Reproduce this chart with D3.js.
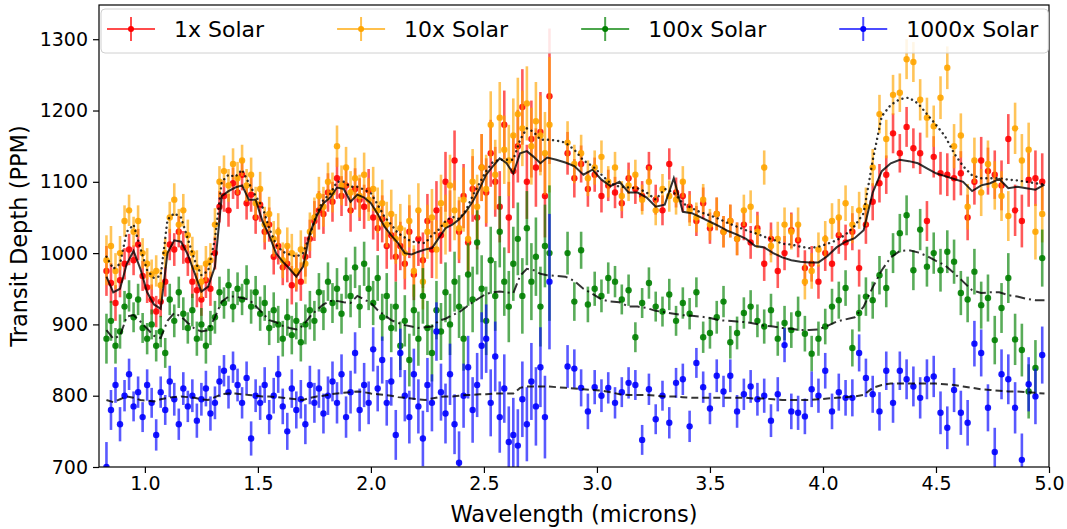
<!DOCTYPE html>
<html lang="en">
<head>
    <meta charset="UTF-8">
    <title>Transit depth vs wavelength</title>
    <style>
        body { margin: 0; background: #fff; }
        text { font-family: "DejaVu Sans", sans-serif; }
    </style>
</head>
<body>
    <script src="https://cdn.jsdelivr.net/npm/d3@7"></script>
    <script>
        // binned wavelengths (microns)
        var wavelength = [
            0.83,0.85,0.87,0.89,0.91,0.93,0.95,0.97,0.99,
            1.01,1.03,1.05,1.07,1.09,1.11,1.13,1.15,1.17,1.19,
            1.21,1.23,1.25,1.27,1.29,1.31,1.33,1.35,1.37,1.39,
            1.41,1.43,1.45,1.47,1.49,1.51,1.53,1.55,1.57,1.59,
            1.61,1.63,1.65,1.67,1.69,1.71,1.73,1.75,1.77,1.79,
            1.81,1.83,1.85,1.87,1.89,1.91,1.93,1.95,1.97,1.99,
            2.01,2.03,2.05,2.07,2.09,2.11,2.13,2.15,2.17,2.19,
            2.21,2.23,2.25,2.27,2.29,2.31,2.33,2.35,2.37,2.39,
            2.41,2.43,2.45,2.47,2.49,2.51,2.53,2.55,2.57,2.59,
            2.61,2.63,2.65,2.67,2.69,2.71,2.73,2.75,2.77,2.79,
            2.87,2.90,2.93,2.96,2.99,
            3.02,3.05,3.08,3.11,3.14,3.17,3.20,3.23,3.26,3.29,
            3.32,3.35,3.38,3.41,3.44,3.47,3.50,3.53,3.56,3.59,
            3.62,3.65,3.68,3.71,3.74,3.77,3.80,3.83,3.86,3.89,
            3.92,3.95,3.98,4.01,4.04,4.07,4.10,4.13,4.16,4.19,
            4.22,4.25,4.28,4.31,4.34,4.37,4.40,4.43,4.46,4.49,
            4.52,4.55,4.58,4.61,4.64,4.67,4.70,4.73,4.76,4.79,
            4.82,4.85,4.88,4.91,4.94,4.97
        ];
        // 1-sigma error (ppm), same noise for every model
        var errPPM = [
            35,28,25,24,22,22,21,22,21,
            22,21,22,22,21,22,23,22,23,22,
            23,24,23,25,24,23,22,22,23,22,
            23,22,23,24,23,24,25,24,25,26,
            25,26,27,26,27,28,27,28,27,28,
            27,28,29,28,29,30,29,30,31,30,
            31,32,33,32,34,35,34,36,37,36,
            38,39,38,40,41,40,42,43,42,44,
            45,44,46,45,47,48,47,49,50,48,
            50,52,51,53,52,54,55,56,58,95,
            30,27,26,25,24,
            23,22,22,21,22,21,21,22,21,21,
            22,21,22,22,21,22,22,23,22,23,
            23,22,23,23,24,23,24,24,25,24,
            25,25,24,25,25,26,25,26,26,27,
            26,27,27,28,27,28,28,29,28,29,
            30,30,31,31,32,32,33,33,34,35,
            35,36,37,38,39,40
        ];
        var depth1x = [
            975,958,930,962,985,1005,990,1012,968,
            952,935,918,932,960,1012,1005,1030,1008,990,
            960,948,935,962,950,1000,1065,1080,1060,1098,
            1085,1110,1070,1082,1050,1068,1030,1040,995,1010,
            980,985,955,972,960,995,1020,1045,1060,1055,
            1085,1072,1105,1080,1095,1060,1090,1075,1065,1088,
            1050,1035,1048,1010,1025,995,1010,985,1030,970,
            1020,990,1045,1005,1060,1025,1100,1045,1130,1030,
            1080,1015,1090,1050,1120,1085,1140,1100,1065,1180,
            1050,1115,1150,1205,1100,1160,1120,1170,1080,1220,
            1140,1105,1125,1090,1110,
            1080,1095,1085,1070,1105,1090,1080,1120,1075,1060,
            1125,1085,1080,1065,1045,1070,1035,1055,1030,1045,
            1020,1040,1015,1035,985,1020,975,1000,1032,1018,
            979,985,960,1000,985,1025,1015,1030,979,1040,
            1072,1098,1110,1168,1140,1177,1147,1140,1045,1135,
            1112,1110,1105,1112,1050,1100,1130,1115,1110,1095,
            1160,1060,1045,1103,1105,1100
        ];
        var depth10x = [
            990,1010,975,1000,1045,1060,1030,1045,1000,
            985,970,975,955,1000,1050,1075,1040,1060,1025,
            1000,980,960,985,990,1040,1100,1115,1095,1125,
            1105,1130,1095,1110,1070,1090,1040,1055,1020,1030,
            990,1010,1000,975,1005,985,1030,1050,1080,1065,
            1100,1085,1150,1095,1120,1085,1105,1080,1110,1075,
            1090,1060,1070,1040,1055,1020,1035,1000,1045,975,
            1060,960,1030,1050,1005,1070,1040,1095,1060,1035,
            1075,1020,1100,1065,1120,1090,1180,1110,1190,1145,
            1130,1165,1195,1175,1210,1150,1185,1165,1140,1180,
            1155,1125,1140,1105,1120,
            1135,1100,1120,1080,1095,1110,1075,1100,1060,1090,
            1080,1075,1100,1060,1050,1075,1040,1055,1030,1045,
            1020,1060,1065,1030,1120,1010,1020,1040,1030,1040,
            960,975,1005,1020,1045,1050,1070,1040,1060,1065,
            1120,1195,1160,1222,1225,1272,1268,1215,1190,1178,
            1218,1260,1150,1165,1065,1130,1085,1125,1095,1080,
            1052,1175,1130,1145,1030,1055
        ];
        var depth100x = [
            880,905,870,890,925,940,910,935,895,
            880,900,870,890,860,935,905,945,915,895,
            920,880,900,870,895,910,945,930,955,925,
            950,935,960,925,945,915,930,895,920,900,
            880,910,885,905,875,900,920,905,945,920,
            960,930,950,915,965,940,980,925,985,950,
            930,965,910,940,895,925,870,905,850,920,
            880,940,895,860,920,890,945,900,960,925,
            880,970,935,1015,950,905,990,940,1030,960,
            925,985,1020,940,1035,960,995,925,1010,1000,
            1000,932,1004,928,950,
            940,965,960,935,948,882,930,958,925,918,
            942,905,930,915,945,882,888,910,932,875,
            888,916,925,905,897,920,880,902,892,915,
            887,859,880,897,925,934,951,867,916,939,
            934,969,951,1000,1028,1053,976,1033,981,1000,
            976,1002,988,944,935,974,927,937,878,923,
            965,879,864,806,839,993
        ];
        var depth1000x = [
            700,780,815,760,800,830,785,805,770,
            815,790,745,805,780,820,795,760,810,785,
            800,765,795,810,775,790,820,835,805,840,
            815,790,825,740,800,790,815,770,800,830,
            785,750,810,780,795,760,815,790,810,775,
            800,820,790,830,770,805,860,780,815,790,
            865,810,850,790,820,745,860,800,770,830,
            785,740,815,790,890,805,775,830,760,706,
            800,840,780,815,870,880,790,855,770,810,
            735,745,730,795,760,820,785,840,770,960,
            841,838,811,778,812,
            800,811,790,805,818,815,738,809,767,800,
            762,818,823,757,846,812,782,828,806,828,
            778,802,813,795,800,765,802,871,778,776,
            771,809,800,835,778,805,797,797,860,825,
            802,778,835,790,835,823,813,797,823,827,
            776,755,808,776,762,873,860,783,721,830,
            823,783,710,816,799,857
        ];

        // forward-model spectra
        var modelWl = [
            0.83,0.86,0.89,0.92,0.95,0.98,
            1.01,1.04,1.07,1.10,1.13,1.16,1.19,1.22,1.25,1.28,
            1.31,1.34,1.37,1.40,1.43,1.46,1.49,1.52,1.55,1.58,
            1.61,1.64,1.67,1.70,1.73,1.76,1.79,1.82,1.85,1.88,
            1.91,1.94,1.97,2.00,2.03,2.06,2.09,2.12,2.15,2.18,
            2.21,2.24,2.27,2.30,2.33,2.36,2.39,2.42,2.45,2.48,
            2.51,2.54,2.57,2.60,2.63,2.66,2.69,2.72,2.75,2.78,
            2.82,2.86,2.90,2.94,2.98,3.02,3.06,3.10,3.14,3.18,
            3.22,3.26,3.30,3.34,3.38,3.42,3.46,3.50,3.54,3.58,
            3.62,3.66,3.70,3.74,3.78,3.82,3.86,3.90,3.94,3.98,
            4.02,4.06,4.10,4.14,4.18,4.22,4.26,4.30,4.34,4.38,
            4.42,4.46,4.50,4.54,4.58,4.62,4.66,4.70,4.74,4.78,
            4.82,4.86,4.90,4.94,4.98
        ];
        var model1x = [
            967,945,950,985,1003,978,
            945,928,922,1000,1018,1016,998,972,946,953,
            981,1080,1087,1092,1095,1075,1075,1045,1025,1000,
            988,978,967,981,1028,1052,1070,1078,1092,1090,
            1072,1082,1078,1070,1055,1037,1025,1014,1000,998,
            1002,1005,1007,1021,1035,1040,1047,1058,1072,1090,
            1110,1122,1133,1126,1112,1140,1143,1135,1126,1134,
            1131,1127,1122,1110,1117,1103,1094,1100,1085,1085,
            1078,1065,1068,1105,1058,1056,1050,1044,1038,1031,
            1026,1020,1010,1008,1000,994,990,988,987,987,
            996,1008,1016,1021,1032,1085,1115,1126,1131,1129,
            1126,1119,1112,1108,1104,1100,1087,1095,1098,1104,
            1091,1093,1091,1089,1096
        ];
        var model10x = [
            995,978,985,1030,1040,1007,
            976,965,968,1047,1056,1050,1020,990,969,975,
            1020,1100,1110,1107,1117,1098,1080,1065,1035,1012,
            1002,998,995,1000,1025,1055,1075,1083,1100,1100,
            1093,1093,1089,1084,1068,1051,1040,1028,1022,1016,
            1015,1014,1025,1033,1045,1051,1048,1060,1080,1098,
            1115,1128,1131,1131,1131,1159,1175,1170,1159,1159,
            1158,1155,1145,1130,1122,1110,1098,1093,1092,1091,
            1085,1075,1090,1085,1070,1063,1057,1053,1048,1042,
            1037,1032,1028,1023,1019,1013,1012,1009,1007,1009,
            1013,1018,1026,1038,1056,1130,1192,1208,1216,1218,
            1210,1195,1180,1164,1140,1122,1109,1105,1105,1105,
            1103,1102,1100,1098,1096
        ];
        var model100x = [
            892,880,884,911,913,904,
            894,884,881,905,916,911,902,894,890,892,
            910,932,939,939,937,935,926,916,906,903,
            898,895,893,898,911,920,928,933,933,931,
            930,940,935,930,920,913,906,902,899,897,
            895,896,897,905,908,913,917,924,931,937,
            943,945,946,945,944,968,978,976,971,969,
            968,967,961,950,943,935,932,931,925,925,
            923,919,917,915,913,912,911,909,906,905,
            904,903,901,898,897,895,894,892,892,893,
            898,904,907,910,925,952,976,994,1003,1004,
            1001,996,989,983,972,960,948,944,945,945,
            941,939,936,934,934
        ];
        var model1000x = [
            794,791,795,799,797,794,
            793,792,795,797,798,799,798,797,795,794,
            798,802,803,803,802,801,800,799,799,798,
            797,796,795,794,797,799,800,802,803,804,
            805,806,805,803,802,801,800,798,797,796,
            795,794,796,798,799,799,800,801,801,802,
            802,803,803,803,803,811,813,813,813,813,
            812,811,810,809,808,807,805,802,801,801,
            801,800,799,799,798,797,797,797,797,797,
            797,797,796,796,795,794,794,794,794,795,
            796,797,798,799,801,811,815,817,817,817,
            817,817,817,816,815,813,811,809,808,807,
            806,806,805,804,803
        ];

        var seriesNames = ['1x Solar', '10x Solar', '100x Solar', '1000x Solar'];
        var seriesColors = ['#ff0000', '#ffa500', '#008000', '#0000ff'];
        var seriesValues = [depth1x, depth10x, depth100x, depth1000x];
        var modelValues = [model1x, model10x, model100x, model1000x];
        var modelDash = ['none', '0.1,5', '10,4,2,4', '7,4'];

        var width = 1067, height = 529;
        var margin = {left: 99, right: 18, top: 5, bottom: 62};

        var svg = d3.select('body').append('svg')
            .attr('width', width)
            .attr('height', height);

        var x = d3.scaleLinear()
            .domain([0.797, 5.0])
            .range([margin.left, width - margin.right]);
        var y = d3.scaleLinear()
            .domain([700, 1348])
            .range([height - margin.bottom, margin.top]);

        svg.append('clipPath').attr('id', 'plotclip')
            .append('rect')
            .attr('x', margin.left).attr('y', margin.top)
            .attr('width', width - margin.left - margin.right)
            .attr('height', height - margin.top - margin.bottom);

        var plot = svg.append('g').attr('clip-path', 'url(#plotclip)');

        // error bars + markers, one series after another
        seriesValues.forEach(function(vals, s) {
            var g = plot.append('g');
            g.selectAll('line')
                .data(vals)
                .enter()
                .append('line')
                .attr('x1', function(d, i) { return x(wavelength[i]); })
                .attr('x2', function(d, i) { return x(wavelength[i]); })
                .attr('y1', function(d, i) { return y(d - errPPM[i]); })
                .attr('y2', function(d, i) { return y(d + errPPM[i]); })
                .attr('stroke', seriesColors[s])
                .attr('stroke-opacity', 0.65)
                .attr('stroke-width', 2.6);
            g.selectAll('circle')
                .data(vals)
                .enter()
                .append('circle')
                .attr('cx', function(d, i) { return x(wavelength[i]); })
                .attr('cy', function(d) { return y(d); })
                .attr('r', 3.2)
                .attr('fill', seriesColors[s])
                .attr('fill-opacity', 0.9);
        });

        // model lines on top
        var line = d3.line()
            .x(function(d, i) { return x(modelWl[i]); })
            .y(function(d) { return y(d); });
        modelValues.forEach(function(vals, s) {
            plot.append('path')
                .attr('d', line(vals))
                .attr('fill', 'none')
                .attr('stroke', '#000')
                .attr('stroke-opacity', 0.8)
                .attr('stroke-width', s == 1 ? 2.4 : 2)
                .attr('stroke-linecap', s == 1 ? 'round' : 'butt')
                .attr('stroke-dasharray', modelDash[s]);
        });

        // axes
        var xAxis = d3.axisBottom(x)
            .tickValues([1.0, 1.5, 2.0, 2.5, 3.0, 3.5, 4.0, 4.5, 5.0])
            .tickFormat(d3.format('.1f'))
            .tickSize(6).tickPadding(4);
        var yAxis = d3.axisLeft(y)
            .tickValues([700, 800, 900, 1000, 1100, 1200, 1300])
            .tickFormat(d3.format('d'))
            .tickSize(6).tickPadding(5);

        var gx = svg.append('g')
            .attr('transform', 'translate(0,' + (height - margin.bottom) + ')')
            .call(xAxis);
        var gy = svg.append('g')
            .attr('transform', 'translate(' + margin.left + ',0)')
            .call(yAxis);
        [gx, gy].forEach(function(g) {
            g.select('.domain').remove();
            g.selectAll('.tick line').attr('stroke', '#000').attr('stroke-width', 1.2);
            g.selectAll('.tick text')
                .attr('fill', '#000')
                .style('font-size', '19px')
                .style('font-family', '"DejaVu Sans", sans-serif');
        });

        svg.append('rect')
            .attr('x', margin.left).attr('y', margin.top)
            .attr('width', width - margin.left - margin.right)
            .attr('height', height - margin.top - margin.bottom)
            .attr('fill', 'none')
            .attr('stroke', '#000')
            .attr('stroke-width', 1.2);

        svg.append('text')
            .attr('x', (margin.left + width - margin.right) / 2)
            .attr('y', 522)
            .attr('text-anchor', 'middle')
            .style('font-size', '22.5px')
            .text('Wavelength (microns)');
        svg.append('text')
            .attr('transform', 'translate(27,' + ((margin.top + height - margin.bottom) / 2) + ') rotate(-90)')
            .attr('text-anchor', 'middle')
            .style('font-size', '22.5px')
            .text('Transit Depth (PPM)');

        // legend
        var leg = svg.append('g');
        var legBox = leg.append('rect')
            .attr('y', 9).attr('height', 44)
            .attr('rx', 4)
            .attr('fill', '#fff').attr('fill-opacity', 0.85)
            .attr('stroke', '#d0d0d0').attr('stroke-width', 1);
        var lx = 107, ly = 29, handle = 48;
        seriesNames.forEach(function(name, s) {
            var item = leg.append('g');
            item.append('line')
                .attr('x1', lx).attr('x2', lx + handle)
                .attr('y1', ly).attr('y2', ly)
                .attr('stroke', seriesColors[s]).attr('stroke-opacity', 0.7)
                .attr('stroke-width', 2);
            item.append('line')
                .attr('x1', lx + handle / 2).attr('x2', lx + handle / 2)
                .attr('y1', ly - 12).attr('y2', ly + 12)
                .attr('stroke', seriesColors[s]).attr('stroke-opacity', 0.7)
                .attr('stroke-width', 2);
            item.append('circle')
                .attr('cx', lx + handle / 2).attr('cy', ly).attr('r', 3)
                .attr('fill', seriesColors[s]);
            var t = item.append('text')
                .attr('x', lx + handle + 19)
                .attr('y', ly + 8)
                .style('font-size', '22px')
                .text(name);
            lx = lx + handle + 19 + t.node().getComputedTextLength() + 73;
        });
        legBox.attr('x', 101).attr('width', lx - 73 + 10 - 101);
    </script>
</body>
</html>
